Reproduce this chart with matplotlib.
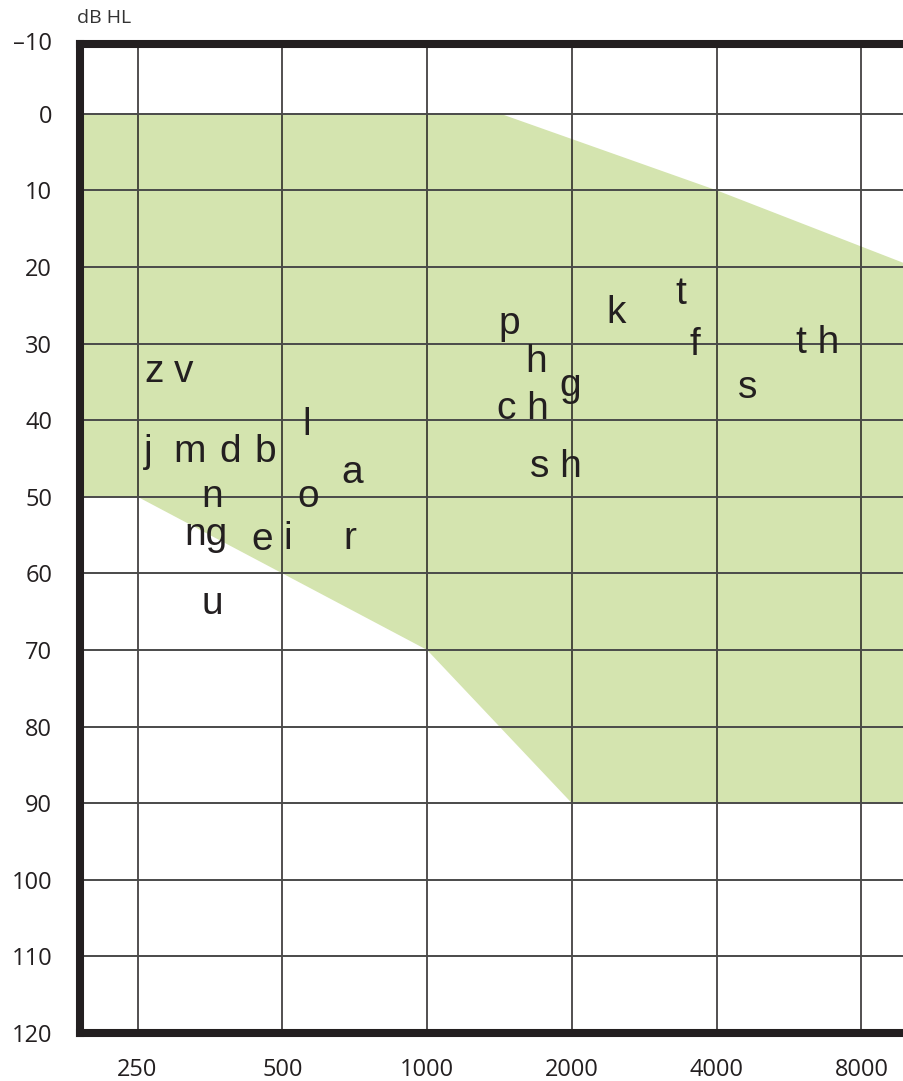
import matplotlib
matplotlib.use('Agg')
import matplotlib.pyplot as plt
from matplotlib.ticker import FixedLocator, NullLocator

# ---- data ----
freq_ticks = [250, 500, 1000, 2000, 4000, 8000]
freq_tick_labels = ['250', '500', '1000', '2000', '4000', '8000']
db_ticks = [0, 10, 20, 30, 40, 50, 60, 70, 80, 90, 100, 110, 120]
db_tick_labels = ['0', '10', '20', '30', '40', '50', '60', '70', '80', '90', '100', '110', '120']
db_top_label = '–10'

x_min, x_max = 189.8, 9810
y_top, y_bottom = -9.1, 120

band_upper_freq = [x_min, 1420, 4000, x_max]
band_upper_db = [0, 0, 10, 19.5]
band_lower_freq = [x_min, 250, 500, 1000, 2000, x_max]
band_lower_db = [50, 50, 60, 70, 90, 90]

phonemes = ['z', 'v', 'j', 'm', 'd', 'b', 'n', 'l', 'o', 'a', 'ng', 'e', 'i', 'r', 'u',
            'p', 'h', 'g', 'c h', 's h', 'k', 't', 'f', 's', 't h']
ph_freq = [271, 312, 263, 321, 390, 460, 357, 563, 566, 698, 347, 454, 514, 691, 357,
           1481, 1685, 1983, 1583, 1854, 2471, 3373, 3607, 4650, 6500]
ph_db = [35.0, 35.0, 45.4, 45.4, 45.4, 45.4, 51.3, 41.9, 51.4, 48.2, 56.3, 56.9, 56.8, 56.8, 65.3,
         28.8, 33.7, 36.8, 39.8, 47.4, 27.3, 24.9, 31.5, 37.1, 31.3]

# ---- style ----
INK = '#231f20'
GREEN = '#d4e4af'

fig = plt.figure(figsize=(9.04, 10.81), dpi=100)
W, H = 904, 1081
ax = fig.add_axes([80 / W, 1 - 1033 / H, (W - 80) / W, (1033 - 44) / H])

ax.set_xscale('log', base=2)
ax.set_xlim(x_min, x_max)
ax.set_ylim(y_bottom, y_top)

# band
poly_x = band_upper_freq + band_lower_freq[::-1]
poly_y = band_upper_db + band_lower_db[::-1]
ax.fill(poly_x, poly_y, color=GREEN, lw=0, zorder=1)

# grid
ax.xaxis.set_major_locator(FixedLocator(freq_ticks))
ax.xaxis.set_minor_locator(NullLocator())
ax.set_xticklabels(freq_tick_labels)
ax.yaxis.set_major_locator(FixedLocator(db_ticks))
ax.set_yticklabels(db_tick_labels)
ax.grid(True, axis='x', color=INK, lw=1.1, zorder=1.5)
ax.grid(True, axis='y', color='#4a4a4a', lw=1.4, zorder=1.5)

ax.tick_params(axis='both', length=0, labelsize=17, colors=INK)
ax.tick_params(axis='x', pad=18)
ax.tick_params(axis='y', pad=20)
for lab in ax.get_xticklabels() + ax.get_yticklabels():
    lab.set_fontfamily('Open Sans')
    lab.set_color(INK)

ax.annotate(db_top_label, xy=(0, y_top), xycoords=('axes fraction', 'data'),
            xytext=(-28 / 1.389, 0), textcoords='offset points',
            ha='right', va='center', fontsize=17, family='Open Sans', color=INK)

# spines
for side in ['left', 'top', 'bottom']:
    ax.spines[side].set_linewidth(5.8)
    ax.spines[side].set_color(INK)
    ax.spines[side].set_capstyle('projecting')
    ax.spines[side].set_zorder(5)
ax.spines['right'].set_visible(False)

# phoneme labels
for s, f, d in zip(phonemes, ph_freq, ph_db):
    ax.text(f, d, s, ha='center', va='baseline', fontsize=28,
            family='Liberation Sans', color=INK, zorder=4)

# unit label
fig.text(77 / W, 1 - 23 / H, 'dB HL', ha='left', va='baseline', fontsize=14,
         family='Open Sans', color='#333333')

fig.savefig('out.png', dpi=100)
